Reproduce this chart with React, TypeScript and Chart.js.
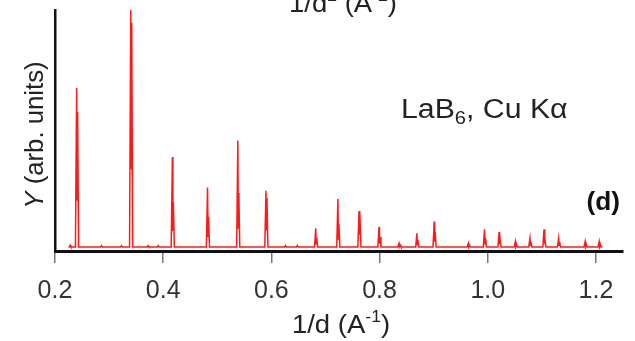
import React, { useEffect, useRef } from 'react';
import { Chart, registerables } from 'chart.js';

Chart.register(...registerables);

// ---- data ----
const xTicks = [0.2, 0.4, 0.6, 0.8, 1.0, 1.2];
const xMin = 0.2;
const xMax = 1.25;
const dataStart = 0.225;
const dataEnd = 1.212;
const baseline = 1.7;

// Bragg peaks: position (1/d), tip height, K-alpha2 shoulder height
const peakX = [0.240, 0.340, 0.417, 0.482, 0.538, 0.590, 0.682, 0.723, 0.762, 0.799, 0.836, 0.869, 0.901, 0.964, 0.994, 1.021, 1.051, 1.078, 1.104, 1.131, 1.180, 1.206];
const peakTop = [67.6, 100, 39.0, 26.3, 45.8, 25.0, 9.4, 21.6, 16.6, 10.0, 3.2, 7.3, 12.2, 3.2, 9.0, 7.9, 3.9, 5.3, 9.0, 5.3, 3.9, 3.9];
const peakShoulder = [57.7, 94.7, 20.3, 14.2, 24.1, 22.0, 5.5, 11.2, 16.0, 5.8, 2.6, 4.5, 8.0, 2.6, 5.5, 5.0, 3.0, 3.8, 5.5, 3.8, 3.0, 3.0];

// small background bumps
const bumpX = [0.228, 0.286, 0.323, 0.372, 0.391, 0.626, 0.648];
const bumpY = [2.4, 2.2, 2.2, 2.2, 2.2, 2.3, 2.3];

const FONT = "'Liberation Sans', Arial, Helvetica, sans-serif";

function buildPoints() {
  const pts: { x: number; y: number }[] = [];
  type Ev = { x: number; kind: 'p' | 'b'; i: number };
  const evs: Ev[] = [];
  peakX.forEach((x, i) => evs.push({ x, kind: 'p', i }));
  bumpX.forEach((x, i) => evs.push({ x, kind: 'b', i }));
  evs.sort((a, b) => a.x - b.x);
  pts.push({ x: dataStart, y: baseline });
  for (const e of evs) {
    if (e.kind === 'p') {
      const s = peakShoulder[e.i];
      pts.push({ x: e.x - 0.0022, y: baseline });
      pts.push({ x: e.x, y: peakTop[e.i] });
      pts.push({ x: e.x + 0.0009, y: baseline + (s - baseline) * 0.35 });
      pts.push({ x: e.x + 0.0018, y: s });
      pts.push({ x: e.x + 0.0036, y: baseline });
    } else {
      pts.push({ x: e.x - 0.0015, y: baseline });
      pts.push({ x: e.x, y: bumpY[e.i] });
      pts.push({ x: e.x + 0.0015, y: baseline });
    }
  }
  pts.push({ x: dataEnd, y: baseline });
  return pts;
}

type Part = { t: string; font: string; dy?: number };

function drawRich(ctx: CanvasRenderingContext2D, parts: Part[], x: number, y: number, align: 'left' | 'center' | 'right', sx = 1) {
  let total = 0;
  for (const p of parts) {
    ctx.font = p.font;
    total += ctx.measureText(p.t).width;
  }
  total *= sx;
  const start = align === 'left' ? x : align === 'center' ? x - total / 2 : x - total;
  ctx.save();
  ctx.translate(start, y);
  ctx.scale(sx, 1);
  ctx.textAlign = 'left';
  ctx.textBaseline = 'alphabetic';
  let cx = 0;
  for (const p of parts) {
    ctx.font = p.font;
    ctx.fillText(p.t, cx, p.dy || 0);
    cx += ctx.measureText(p.t).width;
  }
  ctx.restore();
}

const textPlugin = {
  id: 'texts',
  afterDraw(chart: any) {
    const ctx: CanvasRenderingContext2D = chart.ctx;
    const f = (s: number, st = '') => `${st} ${s}px ${FONT}`.trim();
    ctx.save();
    ctx.fillStyle = '#222';
    // top (cut off) axis title of upper panel
    drawRich(ctx, [
      { t: '1/d', font: f(25) },
      { t: '2', font: f(16), dy: -11 },
      { t: ' (A', font: f(25) },
      { t: '-2', font: f(16), dy: -11 },
      { t: ')', font: f(25) },
    ], 343, 12, 'center', 1.1);
    // x axis title
    drawRich(ctx, [
      { t: '1/d (A', font: f(25) },
      { t: '-1', font: f(16), dy: -11 },
      { t: ')', font: f(25) },
    ], 341, 333, 'center', 1.1);
    // y axis title
    ctx.save();
    ctx.translate(43, 135);
    ctx.rotate(-Math.PI / 2);
    drawRich(ctx, [
      { t: 'Y', font: f(25, 'italic') },
      { t: ' (arb. units)', font: f(25) },
    ], 0, 0, 'center', 1.03);
    ctx.restore();
    // annotation
    drawRich(ctx, [
      { t: 'LaB', font: f(27) },
      { t: '6', font: f(18), dy: 6 },
      { t: ', Cu K\u03b1', font: f(27) },
    ], 401, 118, 'left', 1.12);
    ctx.fillStyle = '#111';
    drawRich(ctx, [{ t: '(d)', font: f(25, 'bold') }], 620, 210, 'right', 1.05);
    ctx.restore();
  },
};

export default function App() {
  const ref = useRef<HTMLCanvasElement | null>(null);
  useEffect(() => {
    if (!ref.current) return;
    const chart = new Chart(ref.current, {
      type: 'line',
      data: {
        datasets: [
          {
            data: buildPoints(),
            borderColor: '#ff1a1a',
            borderWidth: 1.5,
            pointRadius: 0,
            tension: 0,
            fill: false,
          },
        ],
      },
      options: {
        animation: false,
        responsive: false,
        devicePixelRatio: 1,
        events: [],
        layout: { padding: { top: 10, right: 12, left: 0, bottom: 0 } },
        plugins: { legend: { display: false }, tooltip: { enabled: false }, title: { display: false } },
        scales: {
          x: {
            type: 'linear',
            min: xMin,
            max: xMax,
            afterFit: (s: any) => { s.height = 90; },
            afterBuildTicks: (s: any) => { s.ticks = xTicks.map((v) => ({ value: v })); },
            border: { display: true, color: '#111', width: 3 },
            grid: { drawOnChartArea: false, drawTicks: true, tickLength: 12, color: '#777', lineWidth: 1.5 },
            ticks: {
              color: '#333',
              font: { family: FONT, size: 25 },
              padding: 13,
              maxRotation: 0,
              autoSkip: false,
              callback: (v: any) => Number(v).toFixed(1),
            },
          },
          y: {
            type: 'linear',
            min: 0,
            max: 100,
            afterFit: (s: any) => { s.width = 55; },
            border: { display: true, color: '#111', width: 2.5 },
            grid: { display: true, drawOnChartArea: false, drawTicks: false },
            ticks: { display: false },
          },
        },
      },
      plugins: [textPlugin],
    });
    return () => chart.destroy();
  }, []);
  return (
    <div style={{ position: 'fixed', left: 0, top: 0, width: 635, height: 341, background: '#fff' }}>
      <canvas ref={ref} width={635} height={341} style={{ width: 635, height: 341, display: 'block' }} />
    </div>
  );
}
